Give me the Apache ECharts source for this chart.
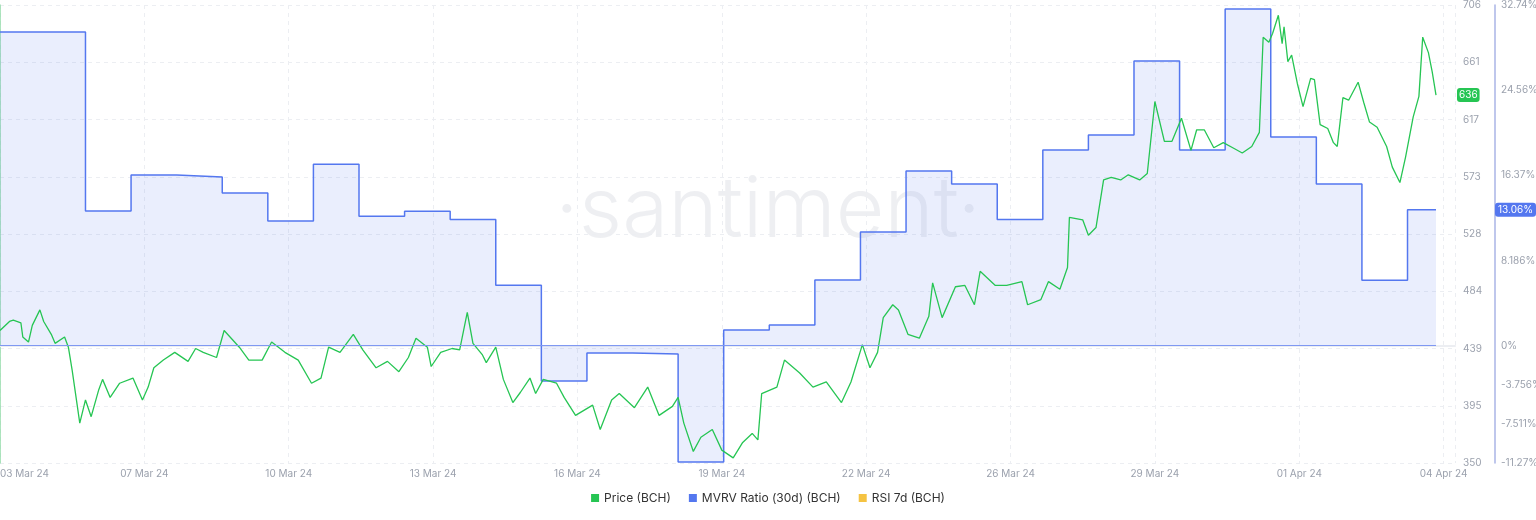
<!DOCTYPE html>
<html lang="en">
<head>
  <meta charset="UTF-8">
  <title>BCH Price vs MVRV</title>
  <script src="https://cdn.jsdelivr.net/npm/echarts@6.0.0/dist/echarts.min.js"></script>
  <style>
    html, body { margin: 0; padding: 0; background: #fff; }
    #chart { width: 1536px; height: 520px; }
  </style>
</head>
<body>
<div id="chart"></div>
<script>
  // x is hours since the left edge of the chart
  var xLabels = ['03 Mar 24', '07 Mar 24', '10 Mar 24', '13 Mar 24', '16 Mar 24', '19 Mar 24',
                 '22 Mar 24', '26 Mar 24', '29 Mar 24', '01 Apr 24', '04 Apr 24'];
  var priceTicks = [350, 395, 439, 484, 528, 573, 617, 661, 706];
  var mvrvTicks = [-11.27, -7.511, -3.756, 0, 8.186, 16.37, 24.56, 32.74];

  var priceHours = [0, 5, 7, 11, 12, 15, 17, 21, 23, 27, 29, 34, 36, 38, 42, 45, 48, 52, 54, 58, 63, 70, 75, 78,
    81, 86, 92, 99, 103, 107, 114, 118, 126, 131, 138, 143, 150, 157, 164, 169, 173, 179, 186, 191, 198, 204,
    210, 215, 219, 225, 227, 232, 238, 242, 246, 249, 254, 256, 261, 265, 270, 274, 279, 282, 286, 293, 297,
    303, 312, 316, 322, 326, 334, 341, 347, 354, 357, 360, 365, 369, 375, 380, 386, 391, 396, 399, 401, 409,
    413, 421, 428, 435, 443, 448, 454, 458, 462, 465, 470, 473, 478, 484, 489, 491, 496, 503, 508, 513, 516,
    524, 530, 538, 541, 548, 552, 558, 562, 563, 570, 573, 577, 581, 585, 590, 594, 600, 604, 608, 613, 617,
    622, 627, 630, 634, 639, 644, 649, 654, 659, 663, 665, 668, 670, 673, 675, 676, 678, 680, 683, 686, 690,
    692, 695, 699, 702, 704, 707, 710, 715, 718, 721, 725, 730, 733, 737, 740, 744, 747, 749, 752, 754, 756];
  var priceValues = [453, 460, 461, 459, 448, 444, 457, 469, 460, 450, 443, 448, 440, 422, 381, 399, 386, 407,
    415, 401, 412, 416, 399, 409, 424, 430, 436, 429, 439, 436, 432, 453, 440, 430, 430, 444, 436, 430, 412,
    416, 440, 436, 450, 438, 424, 429, 421, 432, 447, 440, 425, 436, 439, 438, 467, 443, 434, 428, 440, 415,
    397, 405, 416, 404, 415, 412, 401, 387, 395, 376, 399, 404, 393, 409, 387, 394, 401, 381, 359, 370, 376,
    360, 354, 366, 373, 368, 404, 409, 430, 420, 409, 413, 397, 413, 442, 424, 436, 463, 473, 469, 450, 447,
    464, 490, 463, 487, 488, 473, 499, 488, 488, 491, 473, 477, 491, 485, 502, 541, 539, 527, 533, 570, 572,
    570, 574, 570, 575, 631, 600, 600, 618, 593, 609, 609, 595, 599, 595, 591, 596, 607, 681, 677, 684, 698,
    676, 689, 662, 667, 645, 627, 649, 648, 613, 610, 599, 596, 634, 632, 646, 630, 615, 611, 596, 580, 568,
    588, 619, 635, 681, 669, 654, 636];

  var mvrvHours = [0, 45, 69, 93, 117, 141, 165, 189, 213, 237, 261, 285, 309, 333, 357, 381, 405, 429, 453,
    477, 501, 525, 549, 573, 597, 621, 645, 669, 693, 717, 741, 756];
  var mvrvValues = [30.15, 12.95, 16.40, 16.21, 14.67, 11.98, 17.44, 12.43, 12.91, 12.14, 5.80, -3.39, -0.70,
    -0.80, -11.17, 1.51, 1.99, 6.32, 10.93, 16.79, 15.54, 12.14, 18.81, 20.25, 27.36, 18.81, 32.36, 20.06,
    15.54, 6.28, 13.06, 13.06];

  var green = '#26c553';
  var blue = '#5477ef';
  var grey = '#9ba1ad';

  var myChart = echarts.init(document.getElementById('chart'));

  var option = {
    animation: false,
    textStyle: { fontFamily: 'Inter, "Noto Sans", sans-serif' },
    grid: { left: 0, right: 81, top: 5, bottom: 57, outerBoundsMode: 'none', containLabel: false },
    legend: {
      bottom: 11,
      left: 'center',
      icon: 'rect',
      itemWidth: 8,
      itemHeight: 8,
      itemGap: 18,
      textStyle: { color: '#333', fontSize: 12 },
      data: ['Price (BCH)', 'MVRV Ratio (30d) (BCH)', 'RSI 7d (BCH)']
    },
    graphic: [{
      type: 'text',
      left: 'center',
      top: 170,
      style: {
        text: '·santiment·',
        fontSize: 84,
        fontWeight: 300,
        fill: 'rgba(160,168,185,0.18)',
        fontFamily: 'Inter, sans-serif'
      },
      z: 0
    }],
    xAxis: {
      type: 'value',
      min: 0,
      max: 766,
      interval: 76,
      axisPointer: { show: false },
      axisLine: { show: true, lineStyle: { color: '#eceef2', width: 2 } },
      axisTick: { show: false },
      splitLine: { show: true, lineStyle: { color: '#eceef2', type: [4, 4] } },
      axisLabel: {
        color: grey,
        fontSize: 10,
        margin: 6,
        showMaxLabel: false,
        alignMinLabel: 'left',
        formatter: function (v) { return xLabels[Math.round(v / 76)] || ''; }
      }
    },
    yAxis: [{
      type: 'value',
      position: 'right',
      min: 350,
      max: 706,
      interval: 44.5,
      axisLine: { show: true, lineStyle: { color: '#93dca8', width: 1.5 } },
      axisTick: { show: false },
      splitLine: { show: true, lineStyle: { color: '#eceef2', type: [4, 4] } },
      axisLabel: {
        color: grey,
        fontSize: 10,
        margin: 8,
        formatter: function (v) { return priceTicks[Math.round((v - 350) / 44.5)]; }
      },
      axisPointer: {
        show: true,
        type: 'none',
        value: 636,
        status: 'show',
        triggerTooltip: false,
        label: { show: true, backgroundColor: green, color: '#fff', fontSize: 10, padding: [2, 2],
                 margin: 2, formatter: function (p) { return Math.round(p.value); } }
      }
    }, {
      type: 'value',
      position: 'right',
      offset: 40,
      min: -11.27,
      max: 32.74,
      axisLine: { show: true, lineStyle: { color: '#aab5e6', width: 1.5 } },
      axisTick: { show: false },
      splitLine: { show: false },
      axisLabel: {
        color: grey,
        fontSize: 10,
        margin: 6,
        customValues: mvrvTicks,
        formatter: function (v) { return v + '%'; }
      },
      axisPointer: {
        show: true,
        type: 'none',
        value: 13.06,
        status: 'show',
        triggerTooltip: false,
        label: { show: true, backgroundColor: blue, color: '#fff', fontSize: 10, padding: [2, 3],
                 margin: 2, formatter: function (p) { return p.value.toFixed(2) + '%'; } }
      }
    }],
    series: [{
      name: 'MVRV Ratio (30d) (BCH)',
      type: 'line',
      yAxisIndex: 1,
      step: 'end',
      symbol: 'none',
      color: blue,
      lineStyle: { width: 1.5, color: blue },
      areaStyle: { color: 'rgba(98,128,240,0.19)', origin: 0 },
      data: mvrvHours.map(function (h, i) { return [h, mvrvValues[i]]; }),
      markLine: {
        silent: true,
        symbol: 'none',
        label: { show: false },
        lineStyle: { color: '#7f98f2', type: 'solid', width: 1 },
        data: [[{ coord: [0, 0] }, { coord: [756, 0] }]]
      },
      z: 2
    }, {
      name: 'Price (BCH)',
      type: 'line',
      yAxisIndex: 0,
      symbol: 'none',
      color: green,
      lineStyle: { width: 1.3, color: green },
      data: priceHours.map(function (h, i) { return [h, priceValues[i]]; }),
      z: 3
    }, {
      name: 'RSI 7d (BCH)',
      type: 'line',
      color: '#f5c342',
      data: []
    }]
  };

  myChart.setOption(option);
  window.addEventListener('resize', myChart.resize);
</script>
</body>
</html>
